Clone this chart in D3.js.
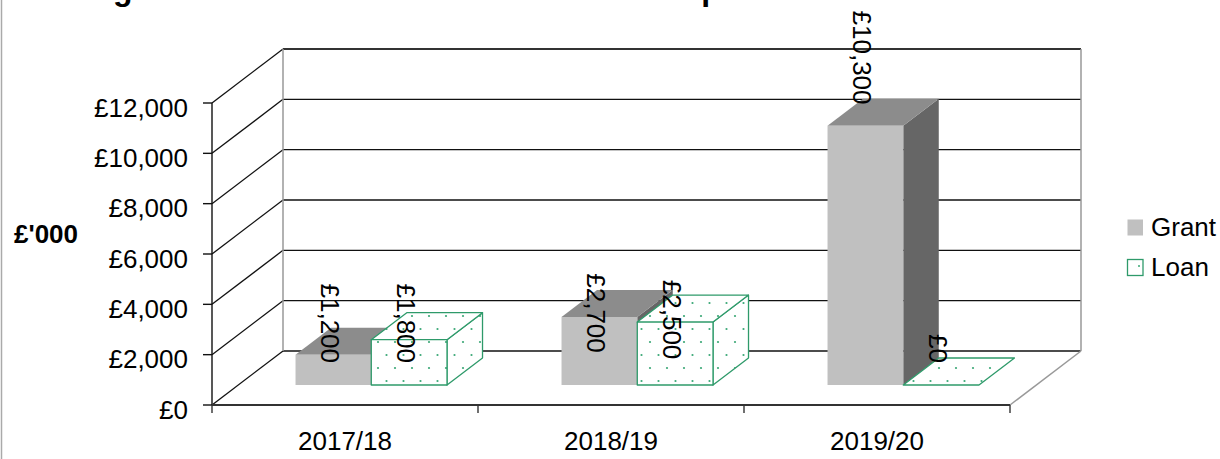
<!DOCTYPE html>
<html>
<head>
<meta charset="utf-8">
<script src="https://cdn.jsdelivr.net/npm/d3@7"></script>
<style>
  html, body { margin: 0; padding: 0; background: #fff; }
  svg { display: block; font-family: "Liberation Sans", Arial, sans-serif; }
</style>
</head>
<body>
<svg id="chart" width="1220" height="459"></svg>
<script>
const categories = ["2017/18", "2018/19", "2019/20"];
const seriesNames = ["Grant", "Loan"];
const grantValues = [1200, 2700, 10300];
const loanValues = [1800, 2500, 0];
const yTickValues = [0, 2000, 4000, 6000, 8000, 10000, 12000];
const titleText = "Regional Growth Fund: Grant and Loan Spend";

const svg = d3.select("#chart");
const fmt = v => "£" + d3.format(",")(v);

// front plane + depth offset of the 3d box
const front = { left: 212, right: 1010, bottom: 405, top: 103 };
const depth = { dx: 71, dy: -54 };
const barDepth = [0.37, 0.87];

const x = d3.scaleBand().domain(categories).range([front.left, front.right]);
const xs = d3.scaleBand().domain(seriesNames).range([0, x.bandwidth()]).paddingOuter(0.756);
const y = d3.scaleLinear().domain([0, 12000]).range([front.bottom, front.top]);
// excel puts the rotated labels a bit further up than the bar top
const labelY = d3.scaleLinear().domain([0, 12000]).range([441, 49]);

const proj = (px, py, f) => [px + f * depth.dx, py + f * depth.dy];
const poly = pts => "M" + pts.map(p => p.join(",")).join("L") + "Z";

const defs = svg.append("defs");
const pat = defs.append("pattern").attr("id", "dots")
  .attr("patternUnits", "userSpaceOnUse").attr("width", 17).attr("height", 26);
pat.append("rect").attr("width", 17).attr("height", 26).attr("fill", "#fff");
pat.append("circle").attr("cx", 4).attr("cy", 4).attr("r", 1.1).attr("fill", "#3aa876");
pat.append("circle").attr("cx", 12.5).attr("cy", 17).attr("r", 1.1).attr("fill", "#3aa876");

// chart area border & title (cut off at the top)
svg.append("line").attr("x1", 1.5).attr("x2", 1.5).attr("y1", 0).attr("y2", 459)
  .attr("stroke", "#aaa").attr("stroke-width", 1.5);
svg.append("text").attr("x", 72).attr("y", 0)
  .attr("font-size", 32).attr("font-weight", "bold").text(titleText);

// walls
const walls = svg.append("g");
const backL = proj(front.left, 0, 1)[0];
const backR = proj(front.right, 0, 1)[0];

walls.selectAll("line.side").data(yTickValues).join("line")
  .attr("x1", front.left).attr("y1", d => y(d))
  .attr("x2", backL).attr("y2", d => proj(0, y(d), 1)[1])
  .attr("stroke", "#111").attr("stroke-width", 1.3);

walls.selectAll("line.back").data(yTickValues).join("line")
  .attr("x1", backL).attr("x2", backR)
  .attr("y1", d => proj(0, y(d), 1)[1]).attr("y2", d => proj(0, y(d), 1)[1])
  .attr("stroke", d => d === 12000 ? "#333" : "#111")
  .attr("stroke-width", d => d === 12000 ? 2.2 : 1.4);

[backL, backR].forEach(bx => {
  walls.append("line").attr("x1", bx).attr("x2", bx)
    .attr("y1", proj(0, y(12000), 1)[1]).attr("y2", proj(0, y(0), 1)[1])
    .attr("stroke", "#999").attr("stroke-width", 1.5);
});
const fr = proj(front.right, front.bottom, 1);
walls.append("line").attr("x1", front.right).attr("y1", front.bottom)
  .attr("x2", fr[0]).attr("y2", fr[1]).attr("stroke", "#999").attr("stroke-width", 1.5);

// value axis
const yAxis = svg.append("g");
yAxis.append("line").attr("x1", front.left).attr("x2", front.left)
  .attr("y1", y(12000)).attr("y2", y(0)).attr("stroke", "#111").attr("stroke-width", 1.4);
yAxis.selectAll("line.tick").data(yTickValues).join("line")
  .attr("x1", front.left - 9).attr("x2", front.left)
  .attr("y1", d => y(d)).attr("y2", d => y(d))
  .attr("stroke", "#111").attr("stroke-width", 1.4);
yAxis.selectAll("text").data(yTickValues).join("text")
  .attr("x", 188).attr("y", d => y(d) + 13.5)
  .attr("text-anchor", "end").attr("font-size", 26).text(fmt);
svg.append("text").attr("x", 46).attr("y", 243).attr("text-anchor", "middle")
  .attr("font-size", 26).attr("font-weight", "bold").text("£'000");

// category axis
const xAxis = svg.append("g");
xAxis.append("line").attr("x1", front.left).attr("x2", front.right)
  .attr("y1", front.bottom).attr("y2", front.bottom).attr("stroke", "#333").attr("stroke-width", 2);
const bounds = categories.map(c => x(c)).concat([front.right]);
xAxis.selectAll("line.tick").data(bounds).join("line")
  .attr("x1", d => d).attr("x2", d => d)
  .attr("y1", front.bottom).attr("y2", front.bottom + 8)
  .attr("stroke", "#333").attr("stroke-width", 1.4);
xAxis.selectAll("text").data(categories).join("text")
  .attr("x", d => x(d) + x.bandwidth() / 2).attr("y", 450)
  .attr("text-anchor", "middle").attr("font-size", 26).text(d => d);

// bars
const bars = [];
categories.forEach((c, i) => {
  bars.push({ cat: c, series: "Grant", value: grantValues[i] });
  bars.push({ cat: c, series: "Loan", value: loanValues[i] });
});
const style = {
  Grant: { front: "#c0c0c0", top: "#8c8c8c", side: "#666", stroke: "none" },
  Loan: { front: "url(#dots)", top: "url(#dots)", side: "url(#dots)", stroke: "#2e9a6a" }
};

const barG = svg.append("g");
bars.forEach(b => {
  const x0 = x(b.cat) + xs(b.series);
  const x1 = x0 + xs.bandwidth();
  const y0 = y(0), y1 = y(b.value);
  const [f0, f1] = barDepth;
  const s = style[b.series];
  const g = barG.append("g")
    .attr("stroke", s.stroke).attr("stroke-width", 1.3).attr("stroke-linejoin", "round");
  if (b.value > 0) {
    g.append("path").attr("fill", s.side)
      .attr("d", poly([proj(x1, y1, f0), proj(x1, y1, f1), proj(x1, y0, f1), proj(x1, y0, f0)]));
  }
  g.append("path").attr("fill", s.top)
    .attr("d", poly([proj(x0, y1, f0), proj(x0, y1, f1), proj(x1, y1, f1), proj(x1, y1, f0)]));
  if (b.value > 0) {
    g.append("path").attr("fill", s.front)
      .attr("d", poly([proj(x0, y1, f0), proj(x1, y1, f0), proj(x1, y0, f0), proj(x0, y0, f0)]));
  }
});

// rotated value labels
const floorLabel = proj(0, y(0), barDepth[0])[1] - 22;
barG.selectAll("text").data(bars).join("text")
  .attr("transform", b => {
    const cx = proj(x(b.cat) + xs(b.series) + xs.bandwidth() / 2, 0, barDepth[0])[0] - 12;
    const ly = Math.min(floorLabel, labelY(b.value));
    return `translate(${cx},${ly}) rotate(90)`;
  })
  .attr("text-anchor", "end").attr("font-size", 26).text(b => fmt(b.value));

// legend
const legend = svg.append("g");
seriesNames.forEach((name, i) => {
  const ly = 219 + i * 40;
  legend.append("rect").attr("x", 1127.5).attr("y", ly + 0.5).attr("width", 15.5).attr("height", 16)
    .attr("fill", name === "Grant" ? "#c0c0c0" : "#fff")
    .attr("stroke", name === "Grant" ? "none" : "#2e9a6a").attr("stroke-width", 1.3);
  if (name === "Loan") {
    legend.append("circle").attr("cx", 1139).attr("cy", ly + 7).attr("r", 1).attr("fill", "#3aa876");
  }
  legend.append("text").attr("x", 1151).attr("y", ly + 17).attr("font-size", 26).text(name);
});
</script>
</body>
</html>
